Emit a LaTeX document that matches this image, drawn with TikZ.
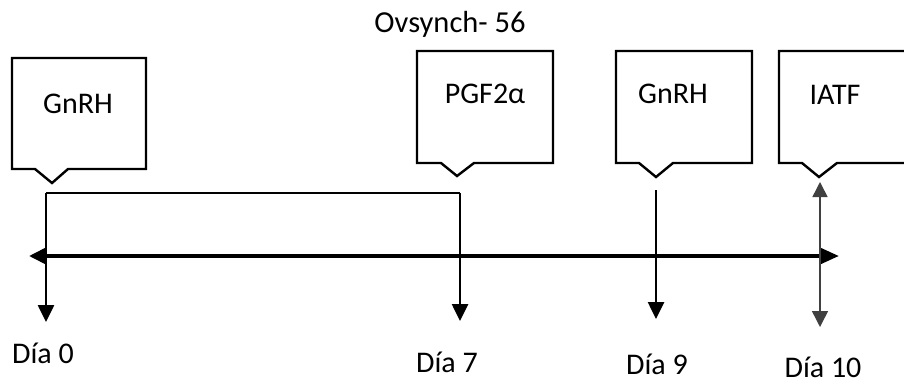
\documentclass[tikz,border=0pt]{standalone}
\usepackage{fontspec}
\setmainfont{Carlito}
\usetikzlibrary{arrows.meta}
\begin{document}
\begin{tikzpicture}[x=1pt,y=-1pt,
  lbl/.style={inner sep=0pt, anchor=base, font=\fontsize{30}{36}\selectfont},
  callout/.style={draw=black, line width=2.4pt, fill=white, line join=miter},
  axisline/.style={line width=3.8pt, {Triangle[length=17pt,width=16pt]}-{Triangle[length=18pt,width=15pt]}},
  dayarrow/.style={line width=2.6pt, -{Triangle[length=17pt,width=16pt]}},
  thinarrow/.style={line width=1.5pt, draw=black!75, {Triangle[length=15pt,width=15pt]}-{Triangle[length=16pt,width=16pt]}},
  bracket/.style={line width=1.4pt}]
\clip (0,0) rectangle (904,383);
\fill[white] (0,0) rectangle (904,383);

% callout boxes with a downward pointer
\draw[callout] (12,58) -- (146,58) -- (146,169) -- (68,169) -- (52,183) -- (35,169) -- (12,169) -- cycle;
\draw[callout] (417,51) -- (553,51) -- (553,163) -- (474,163) -- (457,176) -- (441,163) -- (417,163) -- cycle;
\draw[callout] (616,51) -- (752,51) -- (752,163) -- (673,163) -- (656,177) -- (639,163) -- (616,163) -- cycle;
\draw[callout] (779,51) -- (915,51) -- (915,163) -- (837,163) -- (819,177) -- (802,163) -- (779,163) -- cycle;

% box texts
\node[lbl] (g1) at (78,113) {GnRH};
\node[lbl] (pgf) at (485,103) {PGF2α};
\node[lbl] (g2) at (673,103) {GnRH};
\node[lbl] (iatf) at (835,104) {IATF};
\node[lbl, font=\fontsize{30.5}{36}\selectfont] (title) at (450,32) {Ovsynch- 56};

% time axis
\coordinate (axL) at (29,256);
\coordinate (axR) at (839,256);
\draw[axisline] (axL) -- (axR);

% day markers
\coordinate (b0) at (46,193);
\coordinate (b7) at (460,193);
\coordinate (e0) at (46,322);
\coordinate (e7) at (460,321);
\coordinate (s9) at (656,190);
\coordinate (e9) at (656,319);
\coordinate (s10) at (820,182);
\coordinate (e10) at (820,327);
\draw[bracket] (b0) -- (b7);
\draw[dayarrow] (b0) -- (e0);
\draw[dayarrow] (b7) -- (e7);
\draw[dayarrow] (s9) -- (e9);
\draw[thinarrow] (s10) -- (e10);

% day labels
\node[lbl] (d0) at (43,363) {Día 0};
\node[lbl] (d7) at (447,372) {Día 7};
\node[lbl] (d9) at (657,374) {Día 9};
\node[lbl] (d10) at (823,377) {Día 10};
\end{tikzpicture}
\end{document}
